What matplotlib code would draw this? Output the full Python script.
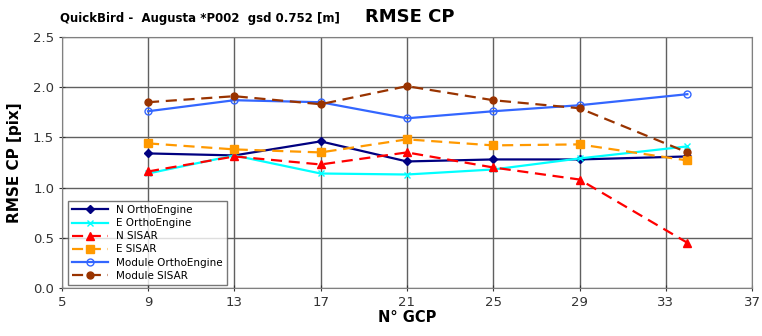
import numpy as np
import matplotlib.pyplot as plt

# RMSE on check points vs number of GCP
gcp = [9, 13, 17, 21, 25, 29, 34]
n_ortho = [1.34, 1.32, 1.46, 1.26, 1.28, 1.28, 1.31]
e_ortho = [1.14, 1.32, 1.14, 1.13, 1.18, 1.29, 1.41]
n_sisar = [1.16, 1.31, 1.23, 1.35, 1.20, 1.08, 0.45]
e_sisar = [1.44, 1.38, 1.35, 1.48, 1.42, 1.43, 1.27]
mod_ortho = [1.76, 1.87, 1.85, 1.69, 1.76, 1.82, 1.93]
mod_sisar = [1.85, 1.91, 1.83, 2.01, 1.87, 1.79, 1.35]

x_ticks = [5, 9, 13, 17, 21, 25, 29, 33, 37]
y_ticks = [0.0, 0.5, 1.0, 1.5, 2.0, 2.5]

fig = plt.figure(figsize=(7.62, 3.36), dpi=100)
ax = fig.add_axes([0.081, 0.143, 0.906, 0.747])

ax.plot(gcp, n_ortho, color='#000080', marker='D', ms=4, lw=1.6, label='N OrthoEngine')
ax.plot(gcp, e_ortho, color='#00FFFF', marker='x', ms=5, lw=1.6, label='E OrthoEngine')
ax.plot(gcp, n_sisar, color='#FF0000', marker='^', ms=6, lw=1.6, ls=(0, (5, 3)), label='N SISAR')
ax.plot(gcp, e_sisar, color='#FF9900', marker='s', ms=6, lw=1.6, ls=(0, (5, 3)), label='E SISAR')
ax.plot(gcp, mod_ortho, color='#3366FF', marker='o', ms=5, mfc='none', lw=1.6, label='Module OrthoEngine')
ax.plot(gcp, mod_sisar, color='#993300', marker='o', ms=5, lw=1.6, ls=(0, (5, 3)), label='Module SISAR')

ax.set_xlim(5, 37)
ax.set_ylim(0, 2.5)
ax.set_xticks(x_ticks)
ax.set_yticks(y_ticks)
ax.set_yticklabels([f'{v:.1f}' for v in y_ticks])
ax.grid(True, color='#606060', lw=1)
ax.set_axisbelow(True)
for s in ax.spines.values():
    s.set_color('#808080')
ax.tick_params(colors='#333333', labelsize=9.5, length=4, direction='inout')

ax.set_ylabel('RMSE CP [pix]', fontsize=11, fontweight='bold', labelpad=8)
ax.set_xlabel('N° GCP', fontsize=10.5, fontweight='bold', labelpad=1)
fig.text(0.538, 0.935, 'RMSE CP', ha='center', fontsize=13, fontweight='bold')
fig.text(0.079, 0.935, 'QuickBird -  Augusta *P002  gsd 0.752 [m]', fontsize=8.5, fontweight='bold')

leg = ax.legend(loc='lower left', fontsize=7.5, frameon=True, fancybox=False,
                edgecolor='#555555', borderaxespad=0.3, handlelength=3.4,
                labelspacing=0.3, bbox_to_anchor=(0.005, 0.0))
leg.get_frame().set_linewidth(1)

fig.savefig('out.png', dpi=100)
